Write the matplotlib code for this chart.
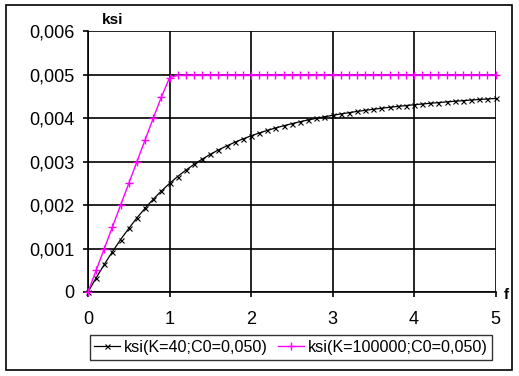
import matplotlib.pyplot as plt
from matplotlib.patches import Rectangle

plt.rcParams['font.family'] = ['Liberation Sans', 'DejaVu Sans']

# Données
f_vals = [i / 10 for i in range(51)]
ksi_k40 = [0.0, 0.000326, 0.000636, 0.000929, 0.001206, 0.001464, 0.001706, 0.001929,
           0.002136, 0.002326, 0.0025, 0.002659, 0.002805, 0.002938, 0.003059, 0.003170,
           0.003271, 0.003363, 0.003448, 0.003525, 0.003596, 0.003661, 0.003722, 0.003777,
           0.003829, 0.003876, 0.003921, 0.003962, 0.004, 0.004036, 0.004069, 0.004101,
           0.004130, 0.004158, 0.004184, 0.004208, 0.004232, 0.004254, 0.004274, 0.004294,
           0.004313, 0.004330, 0.004347, 0.004363, 0.004379, 0.004393, 0.004407, 0.004421,
           0.004434, 0.004446, 0.004458]
ksi_k100000 = [0.0, 0.0005, 0.001, 0.0015, 0.002, 0.0025, 0.003, 0.0035, 0.004, 0.00449,
               0.00493, 0.00499, 0.004995] + [0.005] * 38
label_k40 = "ksi(K=40;C0=0,050)"
label_k100000 = "ksi(K=100000;C0=0,050)"
x_ticks = [0, 1, 2, 3, 4, 5]
y_ticks = [0, 0.001, 0.002, 0.003, 0.004, 0.005, 0.006]
y_ticklabels = ["0", "0,001", "0,002", "0,003", "0,004", "0,005", "0,006"]

W, H = 519, 376
fig = plt.figure(figsize=(W / 100, H / 100), dpi=100)

# Cadre extérieur
fig.patches.append(Rectangle((6 / W, 1 - 370 / H), 506 / W, 365 / H, transform=fig.transFigure,
                             fill=False, edgecolor='black', linewidth=1.2))

left, right, top, bottom = 88, 495.5, 31.5, 292
ax = fig.add_axes([left / W, 1 - bottom / H, (right - left) / W, (bottom - top) / H])

ax.plot(f_vals, ksi_k40, color='black', linewidth=0.9, marker='x', markersize=3.6,
        markeredgewidth=0.8, label=label_k40, clip_on=False, zorder=3)
ax.plot(f_vals, ksi_k100000, color='magenta', linewidth=1.0, marker='+', markersize=5.5,
        markeredgewidth=1.0, label=label_k100000, clip_on=False, zorder=3)

ax.set_xlim(0, 5)
ax.set_ylim(0, 0.006)
ax.set_xticks(x_ticks)
ax.set_yticks(y_ticks)
ax.set_yticklabels(y_ticklabels)
ax.grid(True, color='black', linewidth=1.2)
ax.tick_params(direction='out', length=3.8, width=1.2, labelsize=13)
ax.tick_params(axis='x', pad=10)
ax.tick_params(axis='y', pad=6)
for side in ['top', 'right']:
    ax.spines[side].set_visible(False)
for side in ['left', 'bottom']:
    ax.spines[side].set_linewidth(1.2)

fig.text(102 / W, 1 - 20 / H, "ksi", fontsize=11, fontweight='bold', va='center', ha='left')
fig.text(504 / W, 1 - 295 / H, "f", fontsize=11, fontweight='bold', va='center', ha='left')

leg = fig.legend(loc='center', bbox_to_anchor=(291 / W, 1 - 347.5 / H), ncol=2,
                 fontsize=11.6, frameon=True, fancybox=False, edgecolor='black',
                 handlelength=1.6, handletextpad=0.25, columnspacing=0.6,
                 borderpad=0.3, borderaxespad=0)
leg.get_frame().set_linewidth(1.0)

fig.savefig('out.png', dpi=100)
